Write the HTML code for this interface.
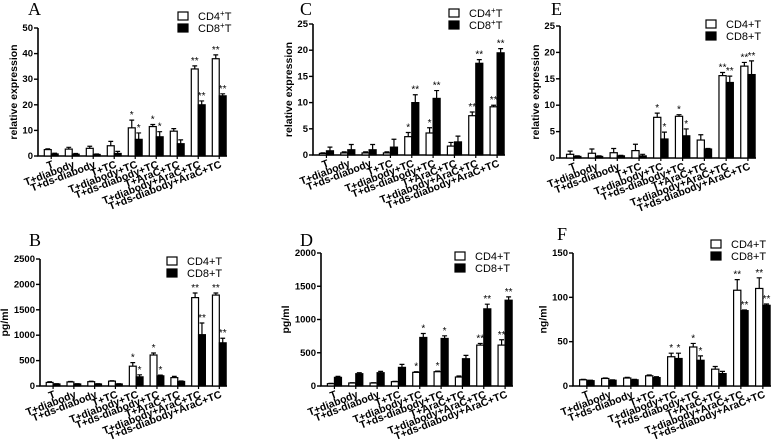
<!DOCTYPE html>
<html><head><meta charset="utf-8">
<style>
body{margin:0;background:#fff;}
svg{display:block;font-family:"Liberation Sans",Arial,sans-serif;}
.tick{font-size:9.5px;font-weight:bold;}
.cat{font-size:10.5px;font-weight:bold;}
.ttl{font-size:10.5px;font-weight:bold;}
.lg{font-size:11px;}
.pl{font-family:"Liberation Serif",serif;font-size:18px;}
.st{font-size:10px;}
</style></head>
<body>
<svg id="fig" width="778" height="448" viewBox="0 0 778 448"></svg>
<script>
const categories=["T","T+diabody","T+ds-diabody","T+TC","T+diabody+TC","T+ds-diabody+TC","T+AraC+TC","T+diabody+AraC+TC","T+ds-diabody+AraC+TC"];
const aCD4=[2.5,2.7,3,4,11,11.5,9.7,34,38];
const aCD4err=[0.3,0.7,0.8,1.7,3,0.8,1,1.2,1.5];
const aCD8=[0.8,0.7,0.6,1,6.5,7.5,4.8,20,23.5];
const aCD8err=[0.3,0.3,0.2,0.8,2.5,2,1.5,1.5,0.8];
const bCD4=[70,80,85,95,390,610,165,1740,1790];
const bCD4err=[15,10,10,10,70,40,25,90,40];
const bCD8=[40,40,40,40,180,200,90,1010,850];
const bCD8err=[5,5,5,5,40,15,10,230,90];
const cCD4=[0.3,0.4,0.4,0.4,3.5,4.2,1.7,7.5,9.2];
const cCD4err=[0.1,0.2,0.2,0.2,0.8,1,0.7,0.7,0.3];
const cCD8=[0.8,1,1,1.5,10,10.8,2.5,17.5,19.5];
const cCD8err=[0.7,1,1,1.5,1.5,1.5,1.1,0.7,0.8];
const dCD4=[35,45,45,65,205,215,135,615,615];
const dCD4err=[5,5,5,5,10,10,15,25,80];
const dCD8=[130,185,200,280,730,715,410,1160,1290];
const dCD8err=[15,15,20,45,60,40,50,70,50];
const eCD4=[0.7,0.9,1,1.4,7.7,7.9,3.4,15.6,17.4];
const eCD4err=[0.6,0.8,0.8,1.2,0.8,0.3,1,0.6,0.7];
const eCD8=[0.3,0.3,0.4,0.4,3.6,4.2,1.7,14.3,15.8];
const eCD8err=[0.1,0.1,0.1,0.3,1.3,1.3,0.1,1.2,2.6];
const fCD4=[7,8.5,9,11.5,33,44,19,108,110];
const fCD4err=[0.5,0.5,0.8,1,4,4,3,12,12];
const fCD8=[6,6.5,7,9.5,31,29,14,85,91];
const fCD8err=[0.5,0.5,0.5,1,6,5,2.5,0.8,1.5];
const starsStd=["","","","","*","*","","**","**"];
const starsC8=["","","","","**","**","","**","**"];
const ticksA=[0,10,20,30,40,50];
const ticksB=[0,500,1000,1500,2000,2500];
const ticksC=[0,5,10,15,20,25];
const ticksD=[0,500,1000,1500,2000];
const ticksE=[0,5,10,15,20,25];
const ticksF=[0,50,100,150];

const NS="http://www.w3.org/2000/svg";
const svg=document.getElementById('fig');
function mk(tag,attrs,parent,text){const e=document.createElementNS(NS,tag);for(const k in attrs)e.setAttribute(k,attrs[k]);if(text!==undefined)e.textContent=text;(parent||svg).appendChild(e);return e;}

const panels=[
 {id:'a',letter:'A',lx:28,ly:15,x0:38,x1:227,yT:28,yB:156,ticks:ticksA,title:'relative expression',w:aCD4,we:aCD4err,b:aCD8,be:aCD8err,sw:starsStd,sb:starsStd,lgx:178,lgy:12,sup:true},
 {id:'b',letter:'B',lx:29,ly:246,x0:40,x1:227,yT:259,yB:386,ticks:ticksB,title:'pg/ml',w:bCD4,we:bCD4err,b:bCD8,be:bCD8err,sw:starsStd,sb:starsStd,lgx:167,lgy:257,sup:false},
 {id:'c',letter:'C',lx:300,ly:15,x0:313,x1:505,yT:24,yB:155,ticks:ticksC,title:'relative expression',w:cCD4,we:cCD4err,b:cCD8,be:cCD8err,sw:starsStd,sb:starsC8,lgx:449,lgy:9,sup:true},
 {id:'d',letter:'D',lx:300,ly:246,x0:321,x1:513,yT:253,yB:386,ticks:ticksD,title:'pg/ml',w:dCD4,we:dCD4err,b:dCD8,be:dCD8err,sw:starsStd,sb:starsStd,lgx:455,lgy:252,sup:false},
 {id:'e',letter:'E',lx:551,ly:15,x0:560,x1:756,yT:26,yB:158,ticks:ticksE,title:'relative expression',w:eCD4,we:eCD4err,b:eCD8,be:eCD8err,sw:starsStd,sb:starsStd,lgx:706,lgy:20,sup:false},
 {id:'f',letter:'F',lx:557,ly:240,x0:573,x1:771,yT:253,yB:386,ticks:ticksF,title:'ng/ml',w:fCD4,we:fCD4err,b:fCD8,be:fCD8err,sw:starsStd,sb:starsStd,lgx:711,lgy:240,sup:false}
];

panels.forEach(p=>{
 const g=mk('g',{});
 
 
 const maxV=p.ticks[p.ticks.length-1];
 const y=v=>p.yB-(v/maxV)*(p.yB-p.yT);
 const gw=(p.x1-p.x0)/categories.length;
 const bw=gw*0.33;
 const L=mk('text',{x:p.lx,y:p.ly,class:'pl'},g,p.letter);
 
 
 const ax=mk('path',{d:`M${p.x0},${p.yT}V${p.yB}H${p.x1}`,stroke:'#000','stroke-width':1.6,fill:'none'},g);
 
 
 p.ticks.forEach(t=>{
  mk('line',{x1:p.x0-4,x2:p.x0,y1:y(t),y2:y(t),stroke:'#000','stroke-width':1.4},g);
  const tl=mk('text',{x:p.x0-5,y:y(t)+3,'text-anchor':'end',class:'tick'},g,String(t));
  
  
 });
 const yc=(p.yT+p.yB)/2, tx=p.x0-(String(maxV).length*5.5+10);
 const yt=mk('text',{x:tx,y:yc,'text-anchor':'middle',class:'ttl',transform:`rotate(-90 ${tx} ${yc})`},g,p.title);
 
 
 categories.forEach((c,i)=>{
  const gx=p.x0+i*gw;
  const cx=gx+gw*0.3+bw;
  mk('line',{x1:cx,x2:cx,y1:p.yB,y2:p.yB+3,stroke:'#000','stroke-width':1.2},g);
  const ct=mk('text',{x:cx+3,y:p.yB+11,'text-anchor':'end',class:'cat',transform:`rotate(-21 ${cx+3} ${p.yB+11})`},g,c);
  
  
  [[p.w,p.we,p.sw,'#fff','cd4'],[p.b,p.be,p.sb,'#000','cd8']].forEach((s,k)=>{
   const v=s[0][i], e=s[1][i];
   const bx=gx+gw*0.3+k*bw;
   const r=mk('rect',{x:bx,y:y(v),width:bw,height:p.yB-y(v),fill:s[3],stroke:'#000','stroke-width':1.2},g);
   
   
   const bc=bx+bw/2;
   mk('path',{d:`M${bc},${y(v)}V${y(v+e)}M${bc-bw*0.35},${y(v+e)}H${bc+bw*0.35}`,stroke:'#000','stroke-width':1.2,fill:'none'},g);
   if(s[2][i]){
    const st=mk('text',{x:bc,y:y(v+e)-2,'text-anchor':'middle',class:'st'},g,s[2][i]);
    
    
   }
  });
 });
 [['CD4','#fff',0],['CD8','#000',1]].forEach(l=>{
  const ly=p.lgy+l[2]*12;
  const lr=mk('rect',{x:p.lgx,y:ly,width:10,height:8,fill:l[1],stroke:'#000','stroke-width':1.2},g);
  
  
  const lt=mk('text',{x:p.lgx+20,y:ly+8,class:'lg'},g);
  
  
  if(p.sup){
   mk('tspan',{},lt,l[0]);
   mk('tspan',{'font-size':'8','dy':'-4'},lt,'+');
   mk('tspan',{'dy':'4'},lt,'T');
  } else lt.textContent=l[0]+'+T';
 });
});
</script>
</body></html>
